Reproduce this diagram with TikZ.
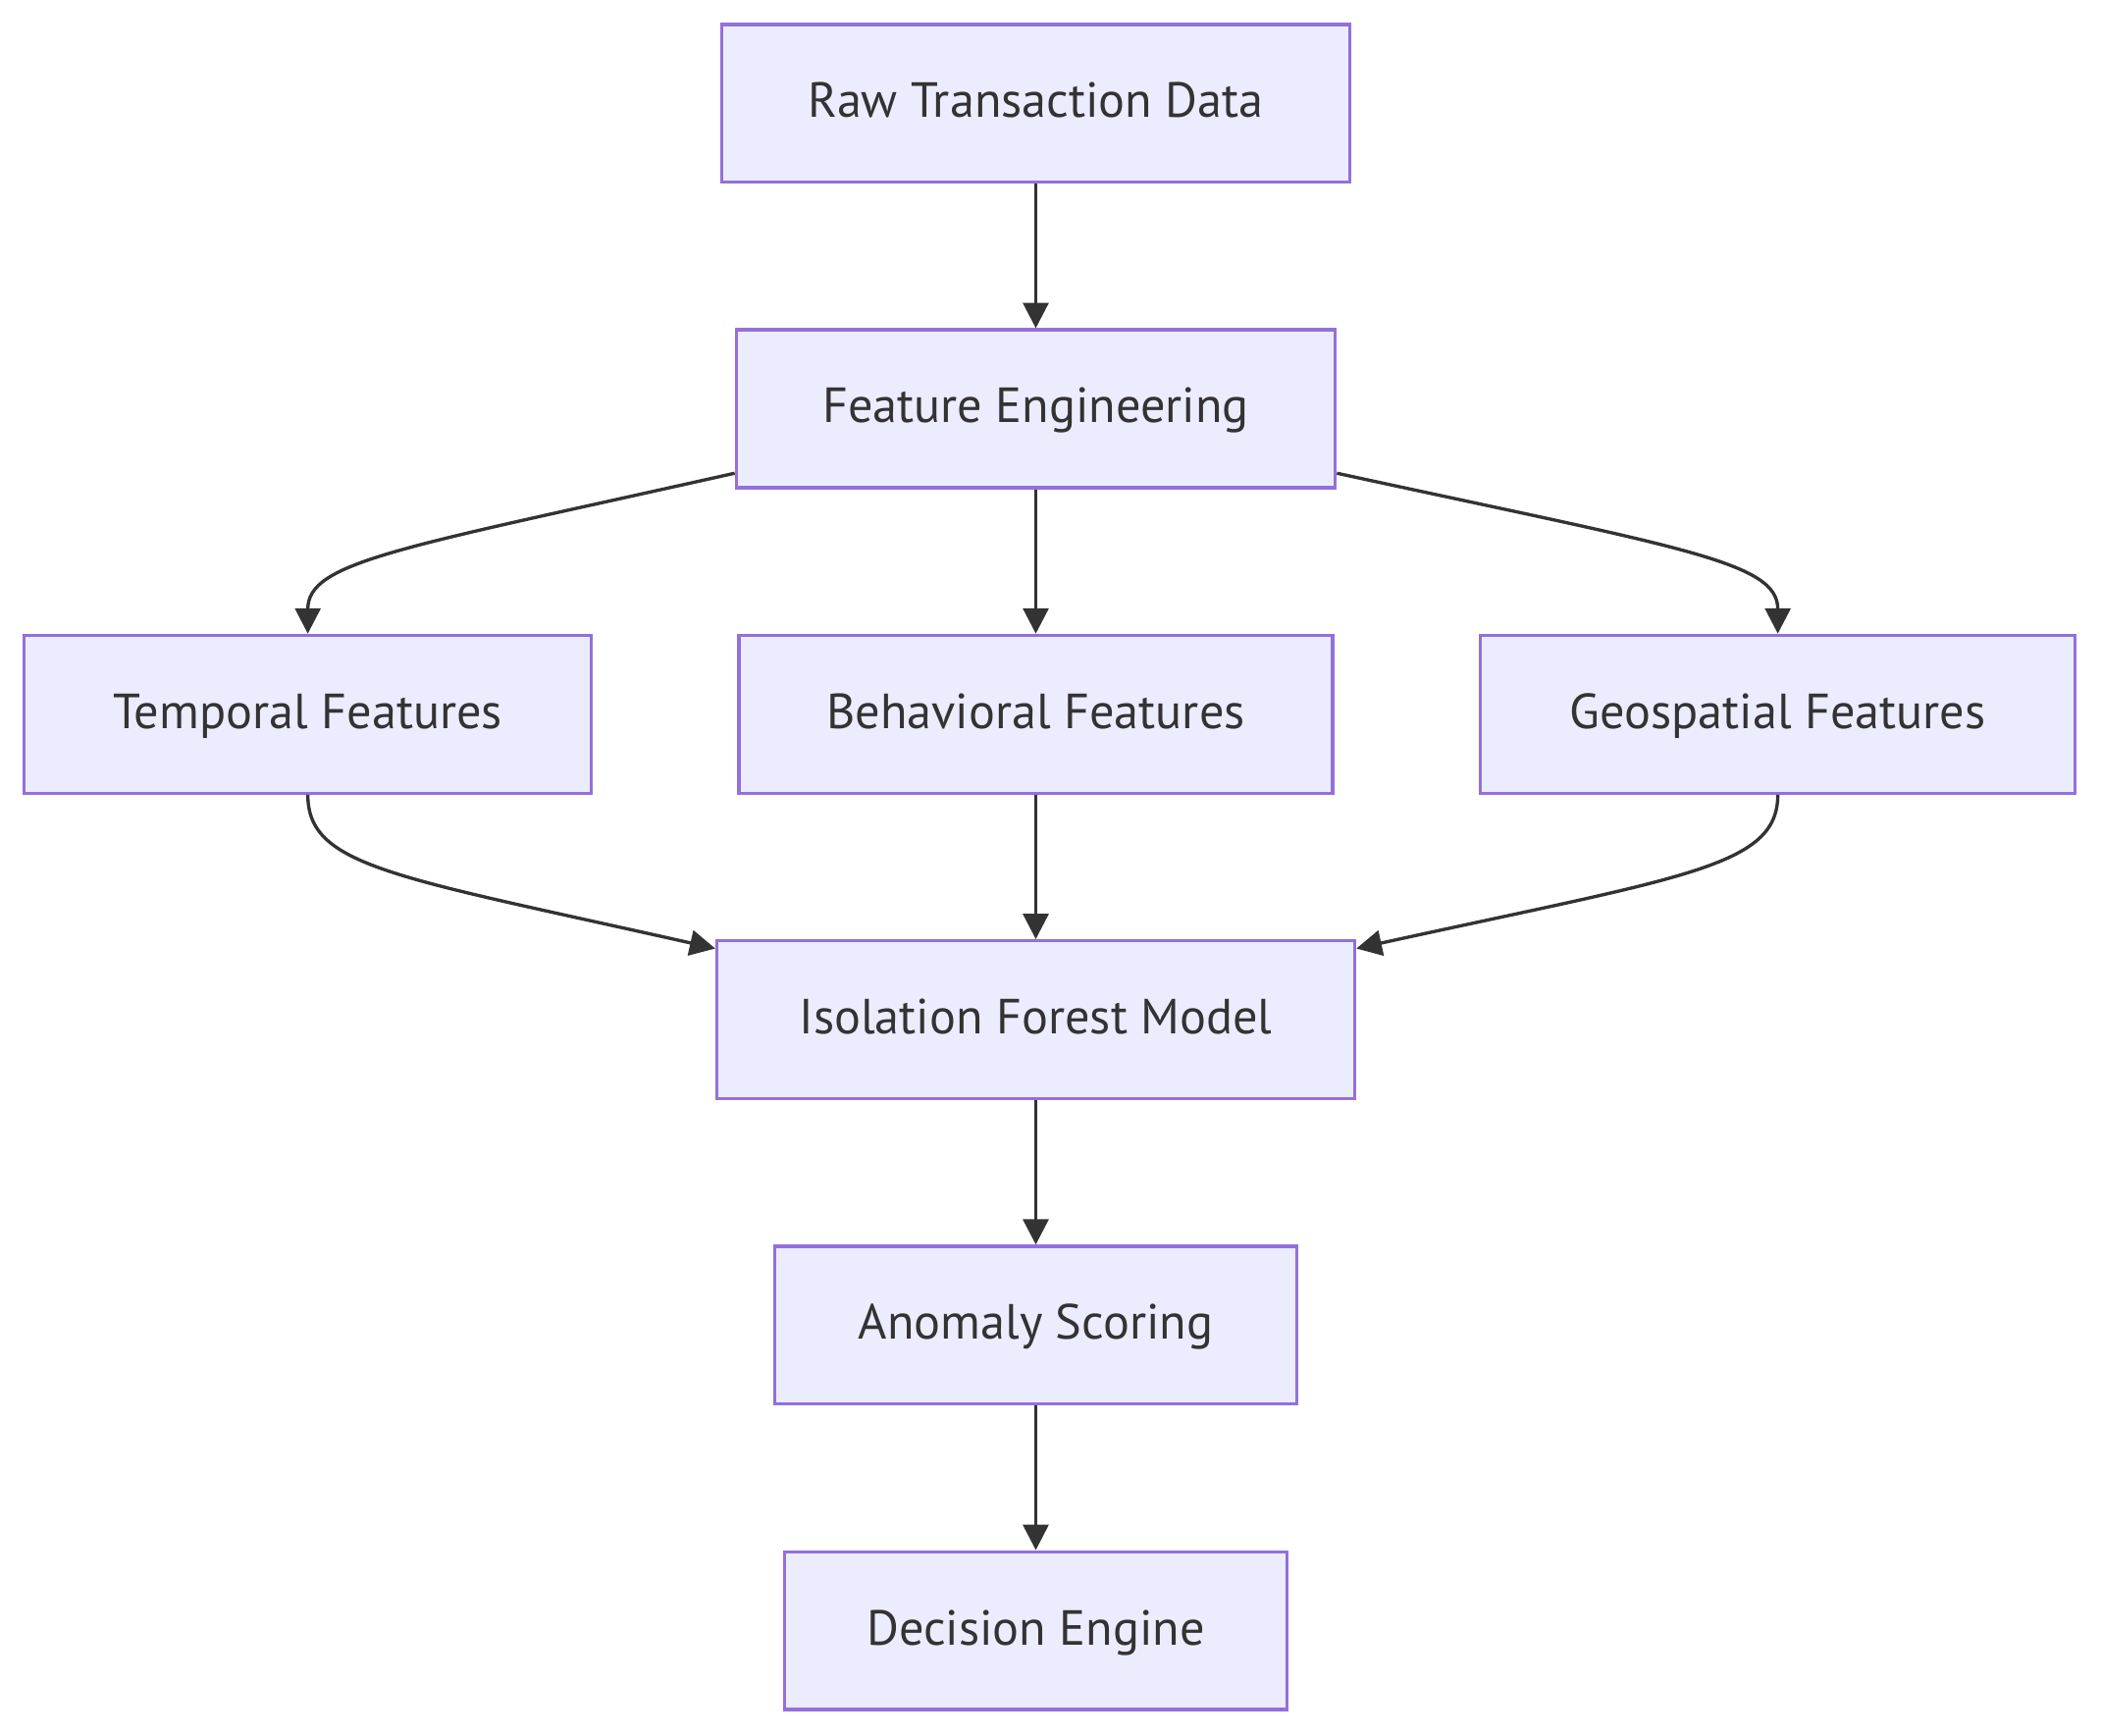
\documentclass[tikz,border=0pt]{standalone}
\usepackage{fontspec}
\setmainfont{PT Sans}
\usepackage{xcolor}
\usepackage{tikz}
\usetikzlibrary{arrows.meta, positioning, calc}
\definecolor{nodefill}{HTML}{ECECFF}
\definecolor{nodeline}{HTML}{9370DB}
\definecolor{edge}{HTML}{333333}
\tikzstyle{stage} = [rectangle, minimum width=4.4cm, minimum height=1.18cm, inner sep=0pt, text centered, text height=1.5ex, text depth=0.3ex, draw=nodeline, line width=0.7pt, fill=nodefill, text=edge, font=\fontsize{10.5}{12}\selectfont]
\tikzstyle{arrow} = [draw=edge, line width=0.7pt, -{Triangle[length=1.9mm, width=1.9mm]}]

\begin{document}
\begin{tikzpicture}[node distance=1.08cm]

% Input
\node[stage, minimum width=4.7cm] (raw) {Raw Transaction Data};
\node[stage, below=1.08cm of raw, minimum width=4.48cm] (feat) {Feature Engineering};

% Feature groups
\node[stage, below=1.08cm of feat, minimum width=4.44cm] (behav) {Behavioral Features};
\node[stage, left=1.08cm of behav, minimum width=4.24cm] (temp) {Temporal Features};
\node[stage, right=1.08cm of behav, minimum width=4.45cm] (geo) {Geospatial Features};

% Model and output
\node[stage, below=1.08cm of behav, minimum width=4.77cm] (iso) {Isolation Forest Model};
\node[stage, below=1.08cm of iso, minimum width=3.9cm] (score) {Anomaly Scoring};
\node[stage, below=1.08cm of score, minimum width=3.76cm] (decide) {Decision Engine};

% Margins
\useasboundingbox ($(temp.west |- raw.north)+(-0.17,0.17)$) rectangle ($(geo.east |- decide.south)+(0.18,-0.18)$);

% Arrows
\draw[arrow] (raw) -- (feat);
\draw[arrow] ($(feat.south west)+(0,0.12)$) .. controls +(-2.5,-0.56) and +(0,0.54) .. (temp.north);
\draw[arrow] (feat) -- (behav);
\draw[arrow] ($(feat.south east)+(0,0.12)$) .. controls +(2.58,-0.56) and +(0,0.54) .. (geo.north);
\draw[arrow] (temp.south) .. controls +(0,-0.54) and +(-2.4,0.54) .. ($(iso.north west)+(0,-0.07)$);
\draw[arrow] (behav) -- (iso);
\draw[arrow] (geo.south) .. controls +(0,-0.54) and +(2.46,0.54) .. ($(iso.north east)+(0,-0.07)$);
\draw[arrow] (iso) -- (score);
\draw[arrow] (score) -- (decide);

\end{tikzpicture}
\end{document}
